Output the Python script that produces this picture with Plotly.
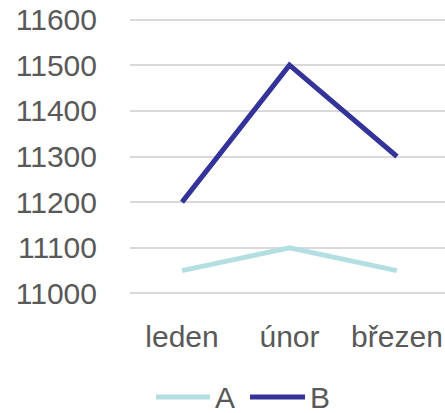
import plotly.graph_objects as go

categories = ["leden", "únor", "březen"]
series_names = ["A", "B"]
series_a = [11050, 11100, 11050]
series_b = [11200, 11500, 11300]
series_colors = ["#B4DFE2", "#333399"]
y_ticks = [11000, 11100, 11200, 11300, 11400, 11500, 11600]

FONT = "Liberation Sans, Arial, sans-serif"
TXT = "#595959"
W, H = 445, 413
ML, MT, MB = 130, 15, 115
PW, PH = W - ML, H - MT - MB

fig = go.Figure()
for name, vals, col in zip(series_names, [series_a, series_b], series_colors):
    fig.add_trace(go.Scatter(x=categories, y=vals, name=name, mode="lines",
                             line=dict(color=col, width=5)))

# custom bottom legend (longer line keys like the reference)
legend_items = [(156, 210, 213), (250, 305, 308)]
ly = -(397 - (MT + PH)) / PH
for (x0, x1, xt), name, col in zip(legend_items, series_names, series_colors):
    fig.add_shape(type="line", xref="paper", yref="paper",
                  x0=(x0 - ML) / PW, x1=(x1 - ML) / PW, y0=ly, y1=ly,
                  line=dict(color=col, width=5))
    fig.add_annotation(text=name, xref="paper", yref="paper",
                       x=(xt - ML) / PW, y=ly,
                       xanchor="left", yanchor="middle", showarrow=False,
                       font=dict(size=30, color=TXT, family=FONT))

fig.update_layout(
    width=W, height=H,
    margin=dict(l=ML, r=0, t=MT, b=MB, autoexpand=False),
    paper_bgcolor="white", plot_bgcolor="white",
    font=dict(family=FONT, size=30, color=TXT),
    showlegend=False,
    hovermode=False,
)
fig.update_xaxes(range=[-0.484, 2.447], showgrid=False, showline=False,
                 zeroline=False, ticks="", ticklabelstandoff=18, automargin=False,
                 tickfont=dict(size=30, color=TXT, family=FONT))
fig.update_yaxes(range=[10990, 11610], tickvals=y_ticks, tickformat="d",
                 showgrid=True, gridcolor="#D9D9D9", gridwidth=1.5,
                 zeroline=False, showline=False, ticks="", automargin=False,
                 ticklabelstandoff=32,
                 tickfont=dict(size=30, color=TXT, family=FONT))

fig.write_html("out.html", config={"displayModeBar": False},
               post_script="document.body.style.margin='0';")
